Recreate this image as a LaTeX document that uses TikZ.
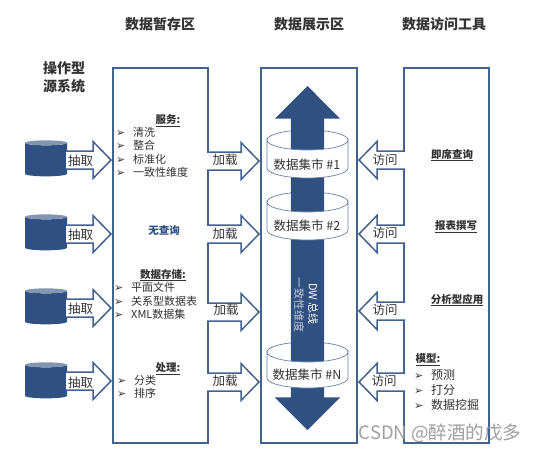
\documentclass[tikz,border=0pt]{standalone}
\usepackage{fontspec}
\setmainfont{Noto Sans CJK SC}
\newfontfamily\markfont{DejaVu Sans}
\usepackage{xcolor}
\usepackage{tikz}
\usetikzlibrary{shapes.geometric, shapes.arrows, positioning, calc}
\definecolor{dwblue}{HTML}{2F5080}
\definecolor{dwedge}{HTML}{44628F}
\definecolor{dwtop}{HTML}{8296B3}
\definecolor{dwtext}{HTML}{333333}
\tikzstyle{zone} = [rectangle, draw=dwedge, line width=1.5pt, fill=white, outer sep=0pt, minimum height=375pt]
\tikzstyle{source} = [cylinder, shape border rotate=90, aspect=0.5, minimum width=42pt, minimum height=36pt, inner sep=5pt, outer sep=0pt, cylinder uses custom fill, cylinder body fill=dwblue, cylinder end fill=dwtop]
\tikzstyle{flow} = [draw=dwedge, line width=1.5pt, fill=white, line join=miter]
\tikzstyle{bus} = [double arrow, fill=dwblue, rotate=90, minimum height=344pt, minimum width=65pt, double arrow head extend=16pt, inner sep=0pt, inner ysep=16.5pt]
\tikzstyle{martline} = [draw=dwedge!80, line width=0.7pt]
\tikzstyle{heading} = [font=\fontsize{14}{18}\selectfont\bfseries, text=dwtext, align=center, inner sep=0pt]
\tikzstyle{flowlabel} = [font=\fontsize{12.5}{15}\selectfont, text=dwtext, inner sep=0pt]
\tikzstyle{martlabel} = [font=\fontsize{12.5}{15}\selectfont, text=dwtext, inner sep=0pt]
\tikzstyle{topic} = [font=\fontsize{10.5}{13}\selectfont\bfseries, text=dwtext, inner sep=0pt]
\tikzstyle{itemlist} = [font=\fontsize{11}{13.5}\selectfont, text=dwtext, align=left, inner sep=0pt, anchor=north west]
\tikzstyle{bustext} = [font=\fontsize{11}{13}\selectfont, rotate=-90, inner sep=0pt]
\newcommand{\itemmark}{\makebox[17pt][l]{\markfont\fontsize{11}{9}\selectfont ➢}}
% block arrow: start node, tip node, row, direction
\newcommand{\flowarrow}[4]{
    \coordinate (flowa) at ($(#1 |- 0,#3)+(-1*#4,0)$);
    \coordinate (flowb) at ($(#2 |- 0,#3)+(-2*#4,0)$);
    \draw[flow] ($(flowa)+(0,-9)$) -- ($(flowb)+(-18*#4,-9)$) -- ($(flowb)+(-18*#4,-18.5)$) -- (flowb)
        -- ($(flowb)+(-18*#4,18.5)$) -- ($(flowb)+(-18*#4,9)$) -- ($(flowa)+(0,9)$);
}
% one data mart: top of disc, height of wall
\newcommand{\martback}[1]{\draw[martline] (267,#1) arc (180:0:40.5pt and 10pt);}
\newcommand{\martfront}[2]{\draw[martline, fill=white] (267,#1) arc (180:360:40.5pt and 10pt) -- ++(0,#2) arc (360:180:40.5pt and 10pt) -- cycle;}

\begin{document}
\begin{tikzpicture}[x=1pt, y=-1pt, node distance=38pt]
    \useasboundingbox (0,0) rectangle (541,453);

    % Zones
    \node[zone, minimum width=95pt] (stage) at (160.5,255.5) {};
    \node[zone, minimum width=96pt] (show) at (309,255.5) {};
    \node[zone, minimum width=85pt] (tools) at (446.5,255.5) {};

    % Sources
    \node[source] (src1) at (46,160.5) {};
    \node[source, below=of src1] (src2) {};
    \node[source, below=of src2] (src3) {};
    \node[source, below=of src3] (src4) {};

    % Arrows
    \flowarrow{src1.east}{stage.west}{160}{1}
    \flowarrow{src2.east}{stage.west}{234}{1}
    \flowarrow{src3.east}{stage.west}{308}{1}
    \flowarrow{src4.east}{stage.west}{381}{1}
    \flowarrow{stage.east}{show.west}{161}{1}
    \flowarrow{stage.east}{show.west}{234}{1}
    \flowarrow{stage.east}{show.west}{312}{1}
    \flowarrow{stage.east}{show.west}{382}{1}
    \flowarrow{tools.west}{show.east}{160}{-1}
    \flowarrow{tools.west}{show.east}{234}{-1}
    \flowarrow{tools.west}{show.east}{311}{-1}
    \flowarrow{tools.west}{show.east}{382}{-1}

    % Marts and bus
    \martback{140}
    \martback{202}
    \martback{352}
    \node[bus] (dwbus) at (307.5,258) {};
    \martfront{140}{28}
    \martfront{202}{28}
    \martfront{352}{26}
    \node[martlabel] (mart1) at (307,165) {数据集市 \#1};
    \node[martlabel] (mart2) at (307,226) {数据集市 \#2};
    \node[martlabel] (martn) at (307,375) {数据集市 \#N};
    \node[bustext, text=white] (busname) at (313,304) {DW 总线};
    \node[bustext, text=dwtop!50!white] (busdim) at (299,305) {一致性维度};

    % Headings
    \node[heading] (stagehead) at (160,24) {数据暂存区};
    \node[heading] (showhead) at (309,24) {数据展示区};
    \node[heading] (toolshead) at (444,24) {数据访问工具};
    \node[heading] (srchead) at (64,77) {操作型\\源系统};

    % Labels on arrows
    \node[flowlabel, right=1pt of src1] (get1) {抽取};
    \node[flowlabel, right=1pt of src2] (get2) {抽取};
    \node[flowlabel, right=1pt of src3] (get3) {抽取};
    \node[flowlabel, right=1pt of src4] (get4) {抽取};
    \node[flowlabel] (load1) at (225,160) {加载};
    \node[flowlabel] (load2) at (225,234) {加载};
    \node[flowlabel] (load3) at (226,310) {加载};
    \node[flowlabel] (load4) at (225,381) {加载};
    \node[flowlabel] (use1) at (385,160) {访问};
    \node[flowlabel] (use2) at (385,233) {访问};
    \node[flowlabel] (use3) at (385,310) {访问};
    \node[flowlabel] (use4) at (384,381) {访问};

    % Stage text
    \node[topic] (service) at (168,121) {\underline{服务:}};
    \node[itemlist] (servicelist) at (116,127) {\itemmark 清洗\\\itemmark 整合\\\itemmark 标准化\\\itemmark 一致性维度};
    \node[topic, text=dwblue] (noquery) at (164,230) {无查询};
    \node[topic] (store) at (163,275) {\underline{数据存储:}};
    \node[itemlist] (storelist) at (114,282) {\itemmark 平面文件\\\itemmark 关系型数据表\\\itemmark XML数据集};
    \node[topic] (process) at (168,369) {\underline{处理:}};
    \node[itemlist] (processlist) at (117,375) {\itemmark 分类\\\itemmark 排序};

    % Tool text
    \node[topic] (adhoc) at (452,155) {\underline{即席查询}};
    \node[topic] (report) at (456,227) {\underline{报表撰写}};
    \node[topic] (analysis) at (457,300) {\underline{分析型应用}};
    \node[topic] (model) at (428,360) {\underline{模型:}};
    \node[itemlist, font=\fontsize{12}{15}\selectfont] (modellist) at (414,369) {\itemmark 预测\\\itemmark 打分\\\itemmark 数据挖掘};

    % Watermark
    \node[font=\fontsize{18.5}{20}\selectfont, text=gray!75, inner sep=0pt] (mark) at (440,433) {CSDN @醉酒的戊多};
\end{tikzpicture}
\end{document}
